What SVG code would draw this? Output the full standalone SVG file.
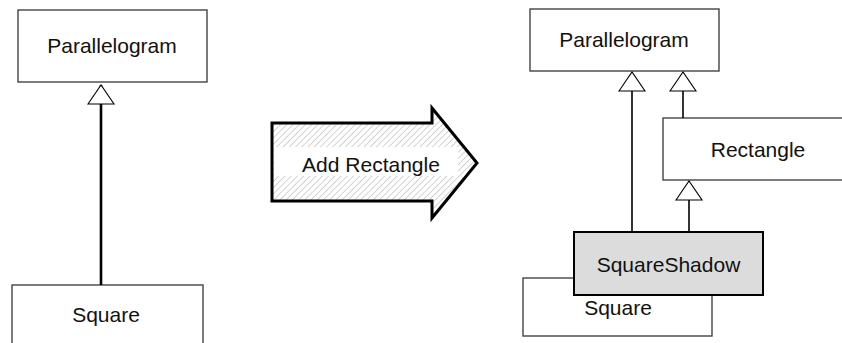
<svg xmlns="http://www.w3.org/2000/svg" width="842" height="343" viewBox="0 0 842 343">
<style>
  .box { fill: #fff; stroke: #444; stroke-width: 1.4; }
  .shadow { fill: #dcdcdc; stroke: #000; stroke-width: 2; }
  .lbl { font-family: "Liberation Sans", Arial, sans-serif; font-size: 21px; fill: #111; text-anchor: middle; }
  .conn { fill: none; stroke: #000; stroke-width: 1.6; }
  .thick { stroke-width: 2.6; }
</style>
<defs>
  <marker id="tri" markerUnits="userSpaceOnUse" viewBox="-1 -1 21 28" refX="19" refY="13" markerWidth="21" markerHeight="28" orient="auto" overflow="visible">
    <path d="M0,0 L19,13 L0,26 Z" fill="#fff" stroke="#000" stroke-width="1.1"/>
  </marker>
  <pattern id="hatch" width="4.4" height="4.4" patternUnits="userSpaceOnUse" patternTransform="rotate(45)">
    <rect width="4.4" height="4.4" fill="#fff"/>
    <line x1="0" y1="0" x2="0" y2="4.4" stroke="#c8c8c8" stroke-width="1.6"/>
  </pattern>
</defs>

<g id="left-parallelogram">
  <rect class="box" x="18" y="10" width="189" height="72"/>
  <text class="lbl" x="112" y="53">Parallelogram</text>
</g>
<g id="left-square">
  <rect class="box" x="12" y="285" width="191" height="70"/>
  <text class="lbl" x="106" y="322">Square</text>
</g>

<g id="add-rectangle-arrow">
  <path d="M272,123 L432,123 L432,108 L477,163 L432,218 L432,201 L272,201 Z" fill="url(#hatch)" stroke="#000" stroke-width="3" stroke-linejoin="miter"/>
  <rect x="274" y="147" width="184" height="29" fill="#fff"/>
  <text class="lbl" x="371" y="172">Add Rectangle</text>
</g>

<g id="right-parallelogram">
  <rect class="box" x="530" y="9" width="189" height="62"/>
  <text class="lbl" x="624" y="47">Parallelogram</text>
</g>
<g id="rectangle">
  <rect class="box" x="663" y="118" width="189" height="62"/>
  <text class="lbl" x="758" y="157">Rectangle</text>
</g>
<g id="right-square">
  <rect class="box" x="523" y="278" width="189" height="58"/>
  <text class="lbl" x="618" y="315">Square</text>
</g>
<g id="square-shadow">
  <rect class="shadow" x="574" y="232" width="189" height="63"/>
  <text class="lbl" x="668.5" y="272">SquareShadow</text>
</g>

<g id="connectors">
  <path class="conn thick" d="M101,285 L101,85" marker-end="url(#tri)"/>
  <path class="conn" d="M632,231 L632,72" marker-end="url(#tri)"/>
  <path class="conn" d="M683,118 L683,72" marker-end="url(#tri)"/>
  <path class="conn" d="M689,231 L689,181" marker-end="url(#tri)"/>
</g>
</svg>
